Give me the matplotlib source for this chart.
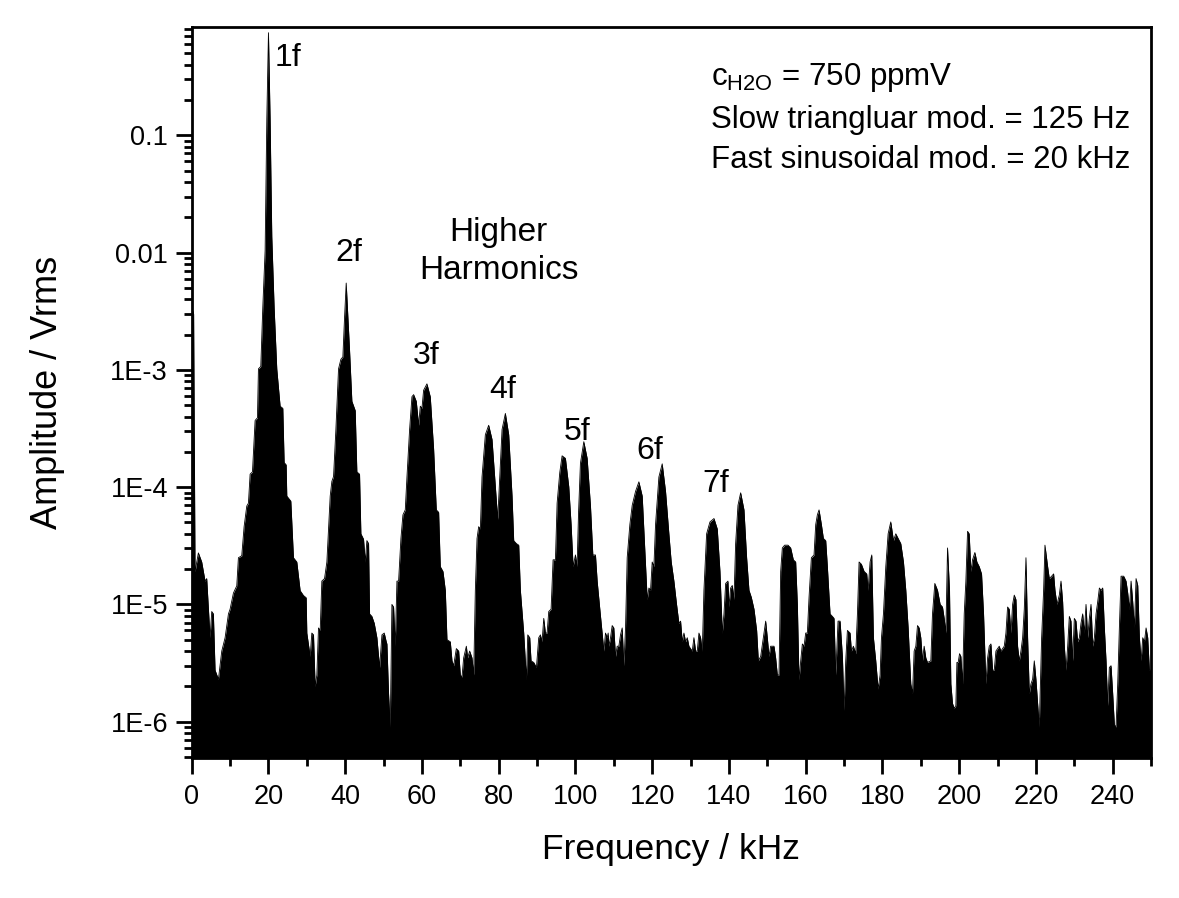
import numpy as np
import matplotlib
matplotlib.use('Agg')
import matplotlib.pyplot as plt
from matplotlib.ticker import FixedLocator, LogLocator, NullFormatter, MultipleLocator

plt.rcParams['font.family'] = ['Liberation Sans', 'DejaVu Sans']
plt.rcParams['mathtext.fontset'] = 'custom'
plt.rcParams['mathtext.rm'] = 'Liberation Sans'
plt.rcParams['mathtext.it'] = 'Liberation Sans'

# spectrum envelope (kHz, Vrms)
freq_khz = [
    0.0, 0.5, 0.87, 1.74, 2.61, 3.48, 3.91, 4.78, 5.22, 5.65, 6.09, 6.96, 7.83, 8.7, 9.57, 10.0,
    10.87, 11.74, 12.17, 13.04, 13.65, 14.35, 14.78, 15.22, 15.83, 16.52, 17.13, 17.39, 18.0, 18.52,
    19.13, 19.57, 20.0, 20.43, 20.87, 21.48, 22.17, 23.04, 23.74, 24.09, 24.61, 24.78, 25.83, 26.52,
    27.39, 28.26, 29.13, 29.83, 30.0, 30.87, 31.3, 31.74, 32.17, 32.61, 33.04, 33.48, 33.91, 34.61,
    35.22, 36.09, 36.52, 36.96, 37.57, 38.26, 38.87, 39.39, 39.83, 40.26, 40.7, 41.13, 41.74, 42.61,
    43.04, 43.74, 44.09, 44.78, 45.22, 45.65, 46.09, 46.35, 46.96, 47.57, 48.26, 48.96, 49.57, 50.17,
    50.7, 50.87, 51.3, 51.74, 52.17, 52.61, 53.04, 53.48, 53.91, 54.52, 55.04, 55.65, 56.09, 56.78,
    57.39, 57.83, 58.52, 59.13, 59.57, 60.0, 60.43, 61.3, 62.17, 63.04, 63.74, 64.35, 64.78, 65.48,
    66.09, 66.52, 67.39, 67.83, 68.26, 68.96, 69.57, 70.0, 70.43, 70.87, 71.57, 71.91, 72.43, 73.04,
    73.48, 73.91, 74.35, 74.78, 75.22, 75.65, 76.52, 77.39, 78.26, 79.13, 79.74, 80.26, 80.87, 81.74,
    82.61, 83.48, 83.91, 84.61, 85.22, 85.65, 86.52, 87.22, 87.57, 88.09, 88.43, 89.13, 89.83, 90.43,
    90.87, 91.3, 91.74, 92.17, 92.61, 93.04, 93.65, 94.17, 94.78, 95.22, 95.91, 96.52, 97.39, 98.26,
    98.87, 99.39, 100.0, 100.43, 100.8, 101.3, 102.18, 103.05, 103.92, 104.53, 105.22, 105.66, 106.35,
    106.96, 107.4, 107.83, 108.27, 108.53, 108.7, 109.14, 109.57, 110.0, 110.44, 110.87, 111.31,
    111.74, 112.18, 112.61, 113.05, 113.48, 114.18, 114.79, 115.66, 116.53, 117.4, 118.0, 118.7,
    119.14, 119.57, 120.0, 120.44, 120.87, 121.74, 122.61, 123.48, 124.35, 124.96, 125.66, 126.35,
    126.96, 127.4, 127.83, 128.27, 128.7, 129.14, 129.57, 130.44, 130.87, 131.31, 131.74, 132.18,
    132.61, 133.05, 133.48, 134.18, 135.05, 136.1, 136.96, 137.66, 138.27, 138.7, 139.14, 139.74,
    140.0, 140.44, 140.87, 141.31, 141.74, 142.35, 143.05, 143.92, 144.61, 145.22, 145.83, 146.53,
    147.22, 147.66, 148.27, 148.96, 149.57, 150.0, 150.44, 150.87, 151.3, 151.74, 152.17, 152.61,
    153.04, 153.48, 153.91, 154.52, 155.39, 156.09, 156.78, 157.39, 157.83, 158.26, 158.7, 159.13,
    159.57, 160.0, 160.43, 160.87, 161.48, 162.17, 162.61, 163.04, 163.48, 164.09, 164.61, 165.22,
    165.65, 166.35, 166.96, 167.39, 167.83, 168.43, 168.96, 169.57, 170.0, 170.43, 170.87, 171.57,
    171.91, 172.43, 173.04, 173.48, 173.91, 174.52, 175.22, 175.91, 176.26, 176.78, 177.22, 177.65,
    178.26, 178.87, 179.39, 179.74, 180.26, 180.87, 181.48, 182.17, 182.87, 183.48, 184.09, 184.78,
    185.48, 186.09, 186.7, 187.39, 187.83, 188.26, 188.7, 189.13, 189.57, 190.0, 190.43, 190.87,
    191.3, 191.74, 192.61, 193.04, 193.65, 194.35, 195.04, 195.65, 196.09, 196.52, 196.96, 197.48,
    197.83, 198.26, 198.7, 199.13, 199.4, 199.74, 200.09, 200.44, 200.87, 201.31, 201.74, 202.18,
    202.61, 203.05, 203.48, 204.09, 204.61, 205.22, 205.83, 206.35, 206.96, 207.4, 207.83, 208.27,
    208.7, 209.13, 209.57, 210.0, 210.44, 210.87, 211.31, 211.74, 212.18, 212.61, 213.05, 213.48,
    213.92, 214.35, 214.79, 215.22, 215.66, 216.09, 216.53, 216.96, 217.4, 217.83, 218.27, 218.7,
    219.13, 219.57, 220.0, 220.44, 220.87, 221.48, 222.0, 222.35, 223.05, 223.48, 224.09, 224.61,
    224.96, 225.48, 226.09, 226.53, 226.96, 227.4, 227.83, 228.27, 228.7, 229.13, 229.57, 230.0,
    230.44, 230.87, 231.31, 231.74, 232.18, 232.61, 233.05, 233.48, 233.92, 234.35, 234.79, 235.22,
    235.66, 236.09, 236.53, 236.96, 237.4, 237.83, 238.27, 238.7, 239.13, 239.57, 240.0, 240.44,
    240.87, 241.31, 241.74, 242.18, 242.87, 243.48, 243.92, 244.35, 244.79, 245.22, 245.66, 246.09,
    246.53, 246.96, 247.4, 247.83, 248.27, 248.7, 249.13, 249.57, 250.0,
]
amp_vrms = [
    3.4e-3, 3.0e-3, 1.9e-5, 2.75e-5, 2.3e-5, 1.58e-5, 1.66e-5, 5.2e-6, 8.7e-6, 8.3e-6, 2.75e-6, 2.3e-6, 4.0e-6, 5.2e-6, 8.3e-6, 9.1e-6,
    1.25e-5, 1.44e-5, 2.5e-5, 2.6e-5, 4.6e-5, 6.9e-5, 7.3e-5, 1.29e-4, 1.35e-4, 3.7e-4, 3.9e-4, 1.02e-3, 1.07e-3, 3.4e-3,
    1.04e-2, 0.138, 0.75, 0.138, 1.37e-2, 3.4e-3, 1.02e-3, 4.9e-4, 4.7e-4, 1.62e-4, 1.55e-4, 8.4e-5, 7.6e-5, 2.5e-5,
    2.3e-5, 1.31e-5, 1.19e-5, 1.14e-5, 5.7e-6, 3.6e-6, 5.7e-6, 5.5e-6, 2.0e-6, 2.5e-6, 6.3e-6, 6.0e-6, 1.58e-5, 1.66e-5,
    2.3e-5, 8.4e-5, 1.12e-4, 1.23e-4, 3.1e-4, 1.02e-3, 1.23e-3, 1.29e-3, 2.8e-3, 5.5e-3, 2.8e-3, 1.48e-3, 5.4e-4, 4.5e-4,
    1.35e-4, 1.29e-4, 4.0e-5, 3.6e-5, 2.3e-5, 3.5e-5, 3.3e-5, 8.3e-6, 7.9e-6, 6.9e-6, 5.2e-6, 2.9e-6, 5.5e-6, 5.7e-6,
    4.8e-6, 4.6e-6, 1.74e-6, 9.0e-7, 1.0e-5, 9.5e-6, 4.4e-6, 1.58e-5, 1.58e-5, 3.65e-5, 5.8e-5, 6.4e-5, 1.22e-4, 3.1e-4,
    5.9e-4, 6.15e-4, 5.4e-4, 3.37e-4, 4.9e-4, 4.7e-4, 6.7e-4, 7.6e-4, 5.9e-4, 2.12e-4, 6.4e-5, 6.1e-5, 2.1e-5, 1.91e-5,
    1.32e-5, 5.0e-6, 4.8e-6, 3.3e-6, 3.0e-6, 4.2e-6, 4.0e-6, 2.5e-6, 2.4e-6, 3.5e-6, 4.4e-6, 3.5e-6, 4.0e-6, 3.5e-6,
    2.5e-6, 1.32e-5, 3.65e-5, 4.6e-5, 4.4e-5, 1.22e-4, 2.8e-4, 3.37e-4, 2.55e-4, 1.01e-4, 5.3e-5, 1.22e-4, 3.1e-4, 4.25e-4,
    2.8e-4, 8.4e-5, 3.5e-5, 3.3e-5, 3.2e-5, 1.32e-5, 5.7e-6, 2.3e-6, 5.5e-6, 5.2e-6, 3.3e-6, 3.2e-6, 2.9e-6, 5.2e-6,
    5.5e-6, 4.8e-6, 7.6e-6, 5.7e-6, 5.7e-6, 8.7e-6, 9.1e-6, 2.4e-5, 2.4e-5, 7.3e-5, 1.33e-4, 1.85e-4, 1.76e-4, 1.01e-4,
    4.8e-5, 2.1e-5, 2.64e-5, 2.1e-5, 6.0e-5, 1.6e-4, 2.44e-4, 1.76e-4, 6.9e-5, 2.64e-5, 2.64e-5, 1.58e-5, 9.1e-6,
    5.7e-6, 4.0e-6, 5.7e-6, 5.2e-6, 5.7e-6, 4.4e-6, 5.2e-6, 6.6e-6, 6.3e-6, 3.6e-6, 4.4e-6, 4.4e-6,
    5.5e-6, 6.3e-6, 3.0e-6, 6.3e-6, 2.5e-5, 4.8e-5, 7.0e-5, 9.2e-5, 1.11e-4, 8.4e-5, 3.3e-5, 1.1e-5,
    1.38e-5, 1.32e-5, 2.3e-5, 2.1e-5, 4.8e-5, 1.22e-4, 1.58e-4, 9.2e-5, 4.0e-5, 2.3e-5, 1.58e-5, 1.0e-5,
    6.9e-6, 7.2e-6, 4.8e-6, 5.7e-6, 4.8e-6, 5.2e-6, 4.4e-6, 4.0e-6, 5.2e-6, 4.0e-6, 4.0e-6, 5.7e-6,
    5.2e-6, 4.0e-6, 1.32e-5, 4.0e-5, 5.05e-5, 5.4e-5, 4.4e-5, 1.91e-5, 5.7e-6, 8.3e-6, 1.51e-5, 1.58e-5,
    9.5e-6, 1.38e-5, 1.45e-5, 1.1e-5, 3.3e-5, 7.0e-5, 8.95e-5, 6.4e-5, 2.5e-5, 1.32e-5, 1.15e-5, 9.1e-6,
    6.0e-6, 3.3e-6, 3.6e-6, 5.2e-6, 7.2e-6, 5.2e-6, 3.6e-6, 4.4e-6, 4.4e-6, 4.4e-6, 3.5e-6, 2.5e-6,
    2.5e-6, 1.91e-5, 3.03e-5, 3.2e-5, 3.2e-5, 3.03e-5, 2.4e-5, 2.3e-5, 1.0e-5, 2.27e-6, 3.3e-6, 4.6e-6,
    4.4e-6, 5.7e-6, 5.7e-6, 1.15e-5, 2.5e-5, 2.64e-5, 4.8e-5, 5.8e-5, 6.4e-5, 4.8e-5, 3.65e-5, 3.5e-5,
    2.1e-5, 8.3e-6, 7.9e-6, 7.6e-6, 2.5e-6, 7.2e-6, 7.2e-6, 3.6e-6, 1.25e-6, 3.3e-6, 6.0e-6, 5.7e-6,
    4.0e-6, 4.4e-6, 3.8e-6, 8.3e-6, 2.3e-5, 2.2e-5, 1.91e-5, 1.82e-5, 1.32e-5, 2.3e-5, 2.64e-5, 5.2e-6,
    3.3e-6, 1.9e-6, 2.5e-6, 5.2e-6, 8.3e-6, 2.1e-5, 4.0e-5, 5.05e-5, 3.5e-5, 4.0e-5, 3.65e-5, 3.3e-5,
    2.3e-5, 1.32e-5, 6.3e-6, 2.1e-6, 1.74e-6, 4.0e-6, 4.4e-6, 6.6e-6, 6.3e-6, 5.2e-6, 3.3e-6, 4.4e-6,
    3.5e-6, 3.2e-6, 3.3e-6, 8.3e-6, 1.51e-5, 1.32e-5, 1.0e-5, 9.5e-6, 7.6e-6, 5.7e-6, 3.03e-5, 1.32e-5,
    2.1e-6, 1.43e-6, 1.3e-6, 1.37e-6, 3.2e-6, 3.2e-6, 3.8e-6, 3.6e-6, 2.1e-6, 8.3e-6, 1.58e-5, 4.2e-5,
    4.0e-5, 1.91e-5, 2.4e-5, 2.77e-5, 2.3e-5, 2.1e-5, 1.82e-5, 8.3e-6, 2.1e-6, 3.5e-6, 4.4e-6, 4.6e-6,
    2.75e-6, 2.75e-6, 4.0e-6, 4.2e-6, 4.4e-6, 4.0e-6, 4.2e-6, 4.4e-6, 5.7e-6, 9.5e-6, 9.1e-6, 5.7e-6,
    1.0e-5, 1.2e-5, 1.1e-5, 4.4e-6, 3.3e-6, 4.0e-6, 5.2e-6, 9.1e-6, 2.5e-5, 5.2e-6, 1.74e-6, 2.1e-6,
    2.3e-6, 3.3e-6, 2.3e-6, 1.43e-6, 9.0e-7, 5.2e-6, 1.32e-5, 3.2e-5, 2.1e-5, 1.66e-5, 1.74e-5, 1.82e-5,
    1.32e-5, 1.0e-5, 1.2e-5, 1.58e-5, 1.05e-5, 4.4e-6, 2.75e-6, 4.4e-6, 7.9e-6, 7.2e-6, 3.3e-6, 7.6e-6,
    7.2e-6, 4.8e-6, 5.2e-6, 6.9e-6, 8.3e-6, 5.7e-6, 1.0e-5, 5.2e-6, 7.6e-6, 1.0e-5, 4.4e-6, 5.2e-6,
    8.3e-6, 1.05e-5, 1.38e-5, 1.32e-5, 1.38e-5, 6.3e-6, 3.3e-6, 1.37e-6, 2.9e-6, 3.0e-6, 1.74e-6, 9.4e-7,
    9.0e-7, 2.1e-6, 6.3e-6, 1.74e-5, 1.74e-5, 1.58e-5, 1.25e-5, 9.1e-6, 1.58e-5, 1.05e-5, 6.3e-6, 1.66e-5,
    1.45e-5, 5.2e-6, 3.3e-6, 5.2e-6, 4.8e-6, 6.3e-6, 5.2e-6, 2.75e-6, 2.75e-6,
]

# harmonic labels (text, kHz, Vrms)
harm_labels = ['1f', '2f', '3f', '4f', '5f', '6f', '7f']
harm_freq = [25.0, 40.9, 61.0, 81.0, 100.4, 119.4, 136.6]
harm_amp = [0.46, 0.0100, 1.32e-3, 6.7e-4, 2.95e-4, 2.03e-4, 1.07e-4]

ytick_vals = [1e-6, 1e-5, 1e-4, 1e-3, 1e-2, 1e-1]
ytick_labels = ['1E-6', '1E-5', '1E-4', '1E-3', '0.01', '0.1']

y_bottom = 4.9e-7
y_top = 0.84

fig = plt.figure(figsize=(11.79, 8.98), dpi=100)
ax = fig.add_axes([0.1626, 0.1559, 0.8137, 0.8141])

ax.fill_between(freq_khz, y_bottom, amp_vrms, color='black', linewidth=0)
ax.plot(freq_khz, amp_vrms, color='black', linewidth=0.6)

ax.set_yscale('log')
ax.set_xlim(0, 250)
ax.set_ylim(y_bottom, y_top)

ax.xaxis.set_major_locator(MultipleLocator(20))
ax.xaxis.set_minor_locator(MultipleLocator(10))
ax.yaxis.set_major_locator(FixedLocator(ytick_vals))
ax.set_yticklabels(ytick_labels)
ax.yaxis.set_minor_locator(LogLocator(base=10, subs=np.arange(2, 10)))
ax.yaxis.set_minor_formatter(NullFormatter())

ax.tick_params(axis='both', which='major', direction='out', length=11.5, width=2,
               labelsize=19.5, top=False, right=False)
ax.tick_params(axis='both', which='minor', direction='out', length=5.5, width=2,
               top=False, right=False)
ax.tick_params(axis='x', which='major', pad=7)
ax.tick_params(axis='y', which='major', pad=5.5)
for s in ax.spines.values():
    s.set_linewidth(2)

ax.set_xlabel('Frequency / kHz', fontsize=25.5, labelpad=17)
ax.set_ylabel('Amplitude / Vrms', fontsize=26, labelpad=33)

for lab, fx, fy in zip(harm_labels, harm_freq, harm_amp):
    ax.text(fx, fy, lab, fontsize=23, ha='center', va='center')

ax.text(80.0, 0.0102, 'Higher\nHarmonics', fontsize=24, ha='center', va='center',
        linespacing=1.3)

ax.text(0.541, 0.9207, r'c$_{\mathrm{H2O}}$ = 750 ppmV', transform=ax.transAxes,
        fontsize=22.5, ha='left', va='baseline')
ax.text(0.541, 0.8618, 'Slow triangluar mod. = 125 Hz', transform=ax.transAxes,
        fontsize=22.5, ha='left', va='baseline')
ax.text(0.541, 0.8071, 'Fast sinusoidal mod. = 20 kHz', transform=ax.transAxes,
        fontsize=22.5, ha='left', va='baseline')

fig.savefig('out.png', dpi=100)
